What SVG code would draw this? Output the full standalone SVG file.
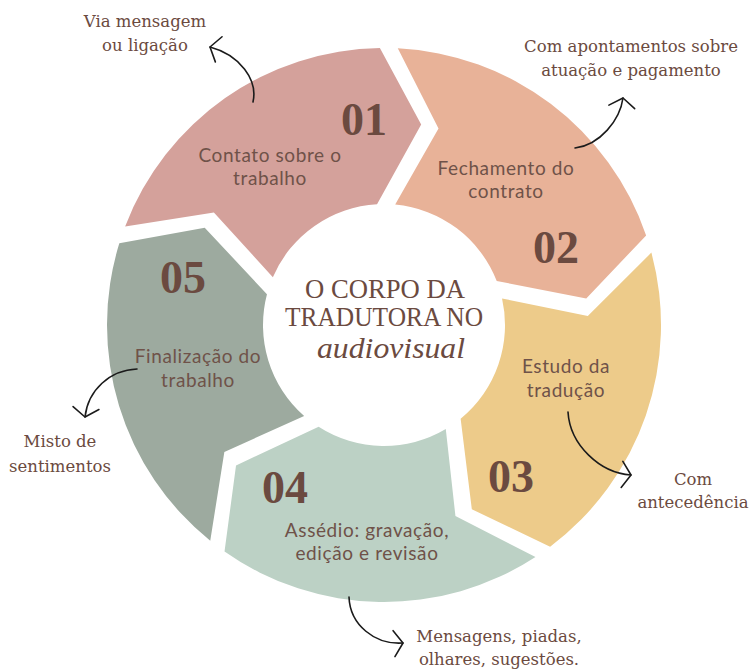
<svg xmlns="http://www.w3.org/2000/svg" xmlns:xlink="http://www.w3.org/1999/xlink" width="755" height="671" viewBox="0 0 755 671">
<defs>
<style>
.num{font-family:"Liberation Serif","DejaVu Serif",serif;font-weight:bold;font-size:46px;fill:#6B4A40;text-anchor:middle}
.lbl{font-family:Lato,"Noto Sans",sans-serif;font-size:19px;letter-spacing:0.6px;fill:#6F5249;text-anchor:middle}
.ext{font-family:"DejaVu Serif","Liberation Serif",serif;font-size:16.5px;fill:#6B4A40;text-anchor:middle}
.ttl{font-family:"Liberation Serif",serif;font-size:28px;fill:#6B4A40;text-anchor:middle}
.scr{font-family:"Liberation Serif",serif;font-style:italic;font-size:30px;fill:#6B4A40;text-anchor:middle}
.arr{fill:none;stroke:#1B1B1B;stroke-width:1.6;stroke-linecap:round;marker-end:url(#head)}
</style>
<path id="seg" d="M276.86,8.94 A277,277 0 0 1 94.06,260.54 L30.15,201.76 L45.91,111.95 A121,121 0 0 0 120.66,9.07 L197.50,51.08 Z"/>
<marker id="head" markerUnits="userSpaceOnUse" viewBox="-15 -15 30 30" markerWidth="30" markerHeight="30" refX="0" refY="0" orient="auto" overflow="visible">
<path d="M-9,-13 L0,0 L-9,13" fill="none" stroke="#1B1B1B" stroke-width="1.6" stroke-linecap="round" stroke-linejoin="round"/>
</marker>
</defs>
<rect width="755" height="671" fill="#FFFFFF"/>
<g id="node01">
<use xlink:href="#seg" href="#seg" transform="translate(384,325) rotate(-161)" fill="#D4A19B"/>
<text class="num" x="364" y="135">01</text>
<text class="lbl" x="270" y="162">Contato sobre o</text>
<text class="lbl" x="270" y="185">trabalho</text>
</g>
<g id="node02">
<use xlink:href="#seg" href="#seg" transform="translate(384,325) rotate(-89)" fill="#E8B298"/>
<text class="num" x="556" y="263">02</text>
<text class="lbl" x="506" y="175">Fechamento do</text>
<text class="lbl" x="506" y="198">contrato</text>
</g>
<g id="node03">
<use xlink:href="#seg" href="#seg" transform="translate(384,325) rotate(-17)" fill="#EDCB8A"/>
<text class="num" x="511" y="492">03</text>
<text class="lbl" x="566" y="373">Estudo da</text>
<text class="lbl" x="566" y="397">tradução</text>
</g>
<g id="node04">
<use xlink:href="#seg" href="#seg" transform="translate(384,325) rotate(55)" fill="#BCD1C5"/>
<text class="num" x="285" y="503">04</text>
<text class="lbl" x="367" y="537">Assédio: gravação,</text>
<text class="lbl" x="367" y="560">edição e revisão</text>
</g>
<g id="node05">
<use xlink:href="#seg" href="#seg" transform="translate(384,325) rotate(127)" fill="#9DAA9F"/>
<text class="num" x="183" y="293">05</text>
<text class="lbl" x="198" y="363">Finalização do</text>
<text class="lbl" x="198" y="387">trabalho</text>
</g>
<g id="center">
<text class="ttl" x="385" y="298" textLength="160" lengthAdjust="spacingAndGlyphs">O CORPO DA</text>
<text class="ttl" x="384" y="326" textLength="198" lengthAdjust="spacingAndGlyphs">TRADUTORA NO</text>
<text class="scr" x="391" y="358" textLength="148" lengthAdjust="spacingAndGlyphs">audiovisual</text>
</g>
<g id="notes">
<text class="ext" x="145" y="27">Via mensagem</text>
<text class="ext" x="145" y="51">ou ligação</text>
<text class="ext" x="631" y="52">Com apontamentos sobre</text>
<text class="ext" x="631" y="76">atuação e pagamento</text>
<text class="ext" x="693" y="485">Com</text>
<text class="ext" x="693" y="508">antecedência</text>
<text class="ext" x="499" y="642">Mensagens, piadas,</text>
<text class="ext" x="499" y="665">olhares, sugestões.</text>
<text class="ext" x="60" y="447">Misto de</text>
<text class="ext" x="60" y="472">sentimentos</text>
</g>
<g id="connectors">
<path class="arr" d="M253,102 C258,80 240,55 210,47"/>
<path class="arr" d="M575,148 C600,145 620,120 623,98"/>
<path class="arr" d="M568,412 C570,445 600,473 631,475"/>
<path class="arr" d="M349,597 C350,625 375,645 403,643"/>
<path class="arr" d="M137,369 C110,370 88,390 85,417"/>
</g>
</svg>
